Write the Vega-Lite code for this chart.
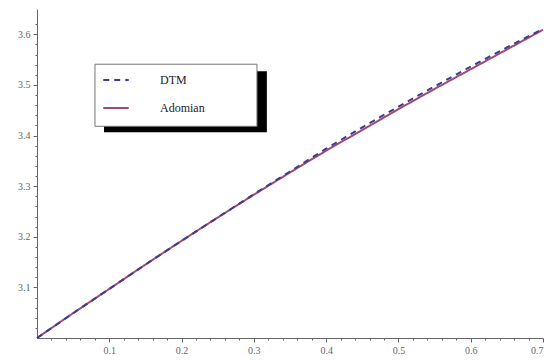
{
  "$schema": "https://vega.github.io/schema/vega-lite/v6.json",
  "width": 506,
  "height": 329,
  "autosize": {"type": "none"},
  "padding": {"left": 37, "right": 9, "top": 9, "bottom": 22},
  "background": "white",
  "config": {
    "view": {"stroke": null},
    "axis": {
      "grid": false,
      "labelFont": "Liberation Serif",
      "labelFontSize": 10,
      "labelColor": "#666666",
      "domainColor": "#666666",
      "tickColor": "#666666",
      "domainWidth": 1,
      "tickWidth": 1,
      "title": null
    },
    "legend": {
      "labelFont": "Liberation Serif",
      "labelFontSize": 12,
      "labelColor": "#222222"
    }
  },
  "resolve": {"axis": {"x": "independent", "y": "independent"}},
  "layer": [
    {
      "data": {"values": [{"part": "shadow"}]},
      "mark": {"type": "rect", "color": "black"},
      "encoding": {
        "x": {"datum": 0.0927, "type": "quantitative", "scale": {"domain": [0, 0.7]},
              "axis": {"orient": "bottom", "values": [0.02,0.04,0.06,0.08,0.12,0.14,0.16,0.18,0.22,0.24,0.26,0.28,0.32,0.34,0.36,0.38,0.42,0.44,0.46,0.48,0.52,0.54,0.56,0.58,0.62,0.64,0.66,0.68], "labels": false, "domain": false, "tickSize": 2}},
        "x2": {"datum": 0.318},
        "y": {"datum": 3.527, "type": "quantitative", "scale": {"domain": [3.0, 3.64]},
              "axis": {"orient": "left", "values": [3.02,3.04,3.06,3.08,3.12,3.14,3.16,3.18,3.22,3.24,3.26,3.28,3.32,3.34,3.36,3.38,3.42,3.44,3.46,3.48,3.52,3.54,3.56,3.58,3.62], "labels": false, "domain": false, "tickSize": 2}},
        "y2": {"datum": 3.4066}
      }
    },
    {
      "data": {"values": [{"part": "box"}]},
      "mark": {"type": "rect", "fill": "white", "stroke": "#777777", "strokeWidth": 1},
      "encoding": {
        "x": {"datum": 0.0802, "type": "quantitative", "axis": null},
        "x2": {"datum": 0.3043},
        "y": {"datum": 3.5409, "type": "quantitative", "axis": null},
        "y2": {"datum": 3.4183}
      }
    },
    {
      "data": {
        "values": [
          {"x": 0.00, "y": 3.000, "series": "Adomian"},
          {"x": 0.05, "y": 3.049, "series": "Adomian"},
          {"x": 0.10, "y": 3.097, "series": "Adomian"},
          {"x": 0.15, "y": 3.145, "series": "Adomian"},
          {"x": 0.20, "y": 3.192, "series": "Adomian"},
          {"x": 0.25, "y": 3.238, "series": "Adomian"},
          {"x": 0.30, "y": 3.283, "series": "Adomian"},
          {"x": 0.35, "y": 3.327, "series": "Adomian"},
          {"x": 0.40, "y": 3.370, "series": "Adomian"},
          {"x": 0.45, "y": 3.411, "series": "Adomian"},
          {"x": 0.50, "y": 3.452, "series": "Adomian"},
          {"x": 0.55, "y": 3.492, "series": "Adomian"},
          {"x": 0.60, "y": 3.531, "series": "Adomian"},
          {"x": 0.65, "y": 3.570, "series": "Adomian"},
          {"x": 0.70, "y": 3.609, "series": "Adomian"},
          {"x": 0.00, "y": 3.000, "series": "DTM"},
          {"x": 0.05, "y": 3.049, "series": "DTM"},
          {"x": 0.10, "y": 3.097, "series": "DTM"},
          {"x": 0.15, "y": 3.145, "series": "DTM"},
          {"x": 0.20, "y": 3.192, "series": "DTM"},
          {"x": 0.25, "y": 3.238, "series": "DTM"},
          {"x": 0.30, "y": 3.284, "series": "DTM"},
          {"x": 0.35, "y": 3.329, "series": "DTM"},
          {"x": 0.40, "y": 3.374, "series": "DTM"},
          {"x": 0.45, "y": 3.416, "series": "DTM"},
          {"x": 0.50, "y": 3.457, "series": "DTM"},
          {"x": 0.55, "y": 3.497, "series": "DTM"},
          {"x": 0.60, "y": 3.536, "series": "DTM"},
          {"x": 0.65, "y": 3.574, "series": "DTM"},
          {"x": 0.70, "y": 3.611, "series": "DTM"}
        ]
      },
      "mark": {"type": "line", "strokeWidth": 2, "interpolate": "monotone"},
      "encoding": {
        "x": {"field": "x", "type": "quantitative",
              "axis": {"orient": "bottom", "values": [0.1,0.2,0.3,0.4,0.5,0.6,0.7], "format": ".1f", "tickSize": 4, "labelPadding": 3}},
        "y": {"field": "y", "type": "quantitative",
              "axis": {"orient": "left", "values": [3.1,3.2,3.3,3.4,3.5,3.6], "format": ".1f", "tickSize": 4, "labelPadding": 3}},
        "color": {
          "field": "series", "type": "nominal",
          "scale": {"domain": ["DTM", "Adomian"], "range": ["#3c3c94", "#a04a72"]},
          "legend": {
            "title": null, "orient": "none", "legendX": 65, "legendY": 57,
            "symbolType": "stroke", "symbolSize": 650, "symbolStrokeWidth": 2,
            "labelOffset": 30, "rowPadding": 8, "padding": 0
          }
        },
        "strokeDash": {
          "field": "series", "type": "nominal",
          "scale": {"domain": ["DTM", "Adomian"], "range": [[6, 5], [1, 0]]},
          "legend": null
        },
        "order": {"field": "x"}
      }
    }
  ]
}
